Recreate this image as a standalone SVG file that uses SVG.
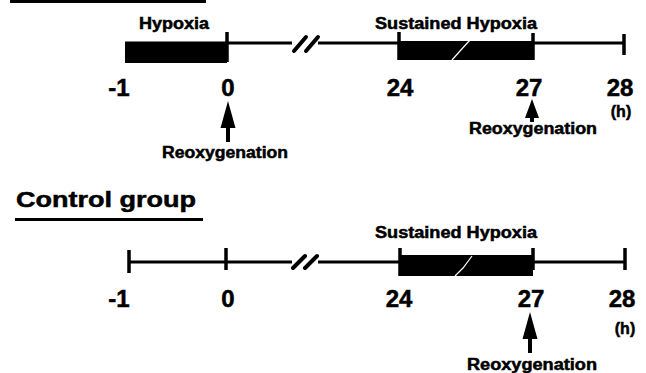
<svg xmlns="http://www.w3.org/2000/svg" width="646" height="373" viewBox="0 0 646 373">
<style>
text{font-family:"Liberation Sans",Arial,sans-serif;font-weight:bold;fill:#000;stroke:#000;stroke-width:0.5}
.num{font-size:24px;text-anchor:middle}
.lbl{font-size:16px;text-anchor:middle}
.h{font-size:16px;text-anchor:middle}
.axis{stroke:#000;stroke-width:3;fill:none}
.tick{stroke:#000;stroke-width:3.5}
.brk{stroke:#000;stroke-width:4;stroke-linecap:round}
.box{fill:#000}
</style>
<defs>
<g id="uparrow"><polygon points="0,0 -7.5,27 -2,27 -2,41 2,41 2,27 7.5,27" fill="#000"/></g>
<g id="uparrow-short"><polygon points="0,0 -7,19 -2,19 -2,23 2,23 2,19 7,19" fill="#000"/></g>
</defs>
<rect width="646" height="373" fill="#fff"/>

<g id="top-title-underline"><rect x="10" y="0" width="196" height="3" fill="#000"/></g>

<g id="top-timeline">
<line class="axis" x1="125" y1="43" x2="292" y2="43"/>
<line class="axis" x1="318" y1="43" x2="624" y2="43"/>
<path class="brk" d="M294,51 L306,37 M306,51 L318,37"/>
<rect class="box" x="125" y="42" width="102" height="21"/>
<rect class="box" x="399" y="41" width="134" height="19"/>
<path d="M452,60 L460,51 L470,40" stroke="#fff" stroke-width="1.2" fill="none"/>
<line class="tick" x1="227" y1="32" x2="227" y2="62"/>
<line class="tick" x1="399" y1="32" x2="399" y2="60"/>
<line class="tick" x1="533" y1="33" x2="533" y2="60"/>
<line class="tick" x1="624" y1="34" x2="624" y2="55"/>
</g>
<g id="top-labels">
<text class="lbl" x="174" y="29" textLength="70" lengthAdjust="spacingAndGlyphs">Hypoxia</text>
<text class="lbl" x="456" y="29" textLength="162" lengthAdjust="spacingAndGlyphs">Sustained Hypoxia</text>
<text class="num" x="119" y="96">-1</text>
<text class="num" x="228" y="96">0</text>
<text class="num" x="400" y="96">24</text>
<text class="num" x="529" y="96">27</text>
<text class="num" x="620" y="96">28</text>
<text class="h" x="621" y="117">(h)</text>
<text class="lbl" x="225" y="158" textLength="126" lengthAdjust="spacingAndGlyphs">Reoxygenation</text>
<text class="lbl" x="533" y="134" textLength="128" lengthAdjust="spacingAndGlyphs">Reoxygenation</text>
</g>

<g id="control-title">
<text x="16" y="207" font-size="22" textLength="180" lengthAdjust="spacingAndGlyphs">Control group</text>
<rect x="15" y="218" width="188" height="3" fill="#000"/>
</g>

<g id="control-timeline">
<line class="axis" x1="129" y1="262" x2="292" y2="262"/>
<line class="axis" x1="318" y1="262" x2="625" y2="262"/>
<path class="brk" d="M293,268 L305,256 M305,268 L317,256"/>
<rect class="box" x="400" y="255" width="133" height="21"/>
<path d="M455,276 L463,268 L472,256" stroke="#fff" stroke-width="1.2" fill="none"/>
<line class="tick" x1="129" y1="250" x2="129" y2="273"/>
<line class="tick" x1="226" y1="248" x2="226" y2="270"/>
<line class="tick" x1="400" y1="248" x2="400" y2="276"/>
<line class="tick" x1="533" y1="248" x2="533" y2="270"/>
<line class="tick" x1="625" y1="248" x2="625" y2="270"/>
</g>
<g id="control-labels">
<text class="lbl" x="456" y="238" textLength="162" lengthAdjust="spacingAndGlyphs">Sustained Hypoxia</text>
<text class="num" x="119" y="307">-1</text>
<text class="num" x="228" y="307">0</text>
<text class="num" x="399" y="307">24</text>
<text class="num" x="531" y="307">27</text>
<text class="num" x="622" y="307">28</text>
<text class="h" x="625" y="334">(h)</text>
<text class="lbl" x="532" y="370" textLength="130" lengthAdjust="spacingAndGlyphs">Reoxygenation</text>
</g>

<g id="connectors">
<use href="#uparrow" x="228" y="101"/>
<use href="#uparrow-short" x="532" y="99"/>
<use href="#uparrow" x="530" y="312"/>
</g>
</svg>
